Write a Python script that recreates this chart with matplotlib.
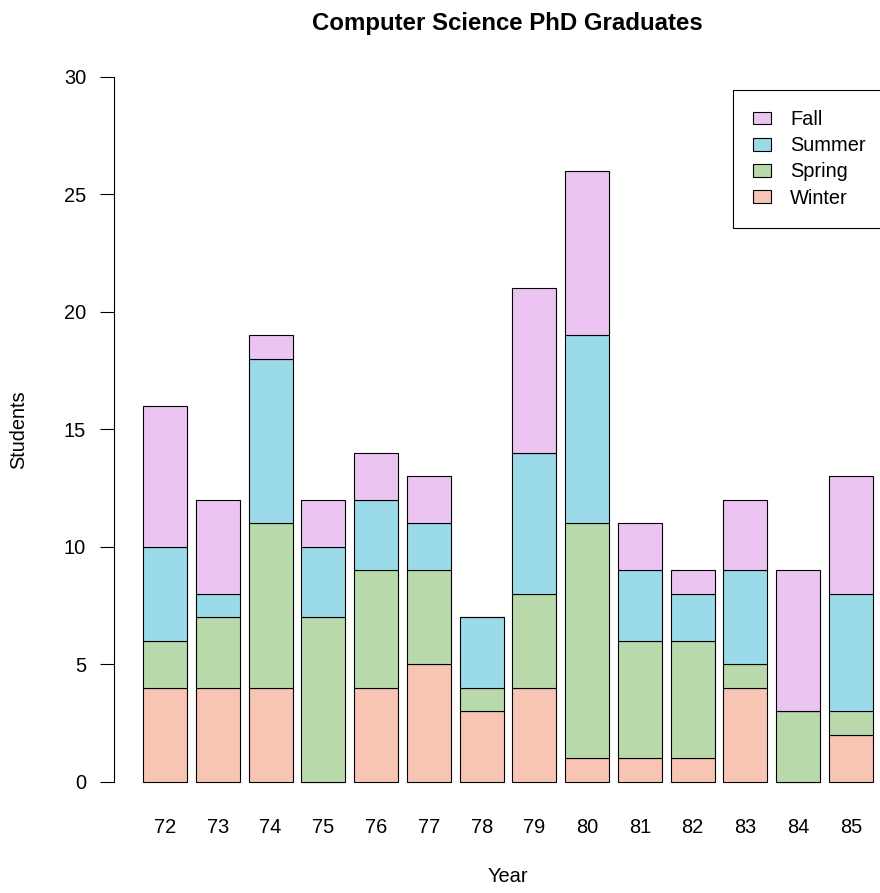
"""
Stacked bar chart of Computer Science PhD graduates by year and term
"""

### imports
import numpy as np
import matplotlib.pyplot as plt

plt.rcParams['font.family'] = ['Liberation Sans', 'DejaVu Sans']

# data
years = ['72','73','74','75','76','77','78','79','80','81','82','83','84','85']
winter = [4,4,4,0,4,5,3,4,1,1,1,4,0,2]
spring = [2,3,7,7,5,4,1,4,10,5,5,1,3,1]
summer = [4,1,7,3,3,2,3,6,8,3,2,4,0,5]
fall   = [6,4,1,2,2,2,0,7,7,2,1,3,6,5]

terms = ['Winter','Spring','Summer','Fall']
colors = ['#F8C4B4','#B8DAAB','#9BDAE8','#EBC4F1']

FS = 14.4
W,H = 880,893
fig = plt.figure(figsize=(W/100,H/100),dpi=100)
# plot region in pixels (goes past the right edge, like the original)
left,right,bottom,top = 114,902,810,48.5
ax = fig.add_axes([left/W,1-bottom/H,(right-left)/W,(bottom-top)/H])

x = 0.7 + 1.2*np.arange(len(years))
base = np.zeros(len(years))
handles = []
for vals,name,col in zip([winter,spring,summer,fall],terms,colors):
	b = ax.bar(x,vals,width=1,bottom=base,color=col,edgecolor='black',linewidth=0.8,label=name)
	handles.append(b)
	base += np.array(vals)

ax.set_xlim(-0.464,17.464)
ax.set_ylim(-1.2,31.2)
for s in ['top','right','bottom']:
	ax.spines[s].set_visible(False)
ax.spines['left'].set_bounds(0,30)
ax.spines['left'].set_linewidth(0.8)
ax.set_yticks(np.arange(0,31,5))
ax.tick_params(axis='y',length=10,width=0.8,pad=10,labelsize=FS)
ax.set_xticks(x)
ax.set_xticklabels(years)
ax.tick_params(axis='x',length=0,pad=6,labelsize=FS)

fig.text(507/W,1-30/H,'Computer Science PhD Graduates',ha='center',va='baseline',fontsize=1.2*FS,fontweight='bold')
fig.text(508/W,1-877/H,'Year',ha='center',va='center',fontsize=FS)
fig.text(19/W,1-430/H,'Students',ha='center',va='center',rotation=90,fontsize=FS)

# legend box: top-left corner at (733, 90) px, running past the right edge
leg = fig.legend(handles[::-1],terms[::-1],loc='upper left',
	bbox_to_anchor=(733/W,1-90/H-0.01,(902-733)/W,0.01),mode='expand',
	borderaxespad=0,fontsize=FS,handlelength=0.9,handleheight=0.6,handletextpad=0.97,
	labelspacing=0.36,borderpad=1.0,fancybox=False,framealpha=1)
leg.get_frame().set_edgecolor('black')
leg.get_frame().set_linewidth(0.8)

plt.savefig('out.png',dpi=100)
